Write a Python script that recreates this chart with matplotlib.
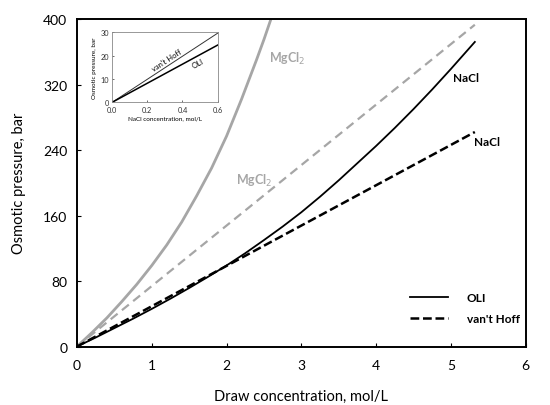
import matplotlib
matplotlib.use("Agg")
import matplotlib.pyplot as plt

plt.rcParams["font.family"] = ["Lato", "DejaVu Sans"]

# Main chart data
mg_conc = [0, 0.2, 0.4, 0.6, 0.8, 1.0, 1.2, 1.4, 1.6, 1.8, 2.0, 2.2, 2.4, 2.5, 2.65]
mg_oli = [0, 17, 35, 55, 76, 99, 124, 152, 184, 218, 257, 302, 350, 375, 415]
mg_vh_conc = [0, 5.32]
mg_vh = [0, 393]

nacl_conc = [0, 0.25, 0.5, 0.75, 1.0, 1.25, 1.5, 1.75, 2.0, 2.25, 2.5, 2.75,
             3.0, 3.25, 3.5, 3.75, 4.0, 4.25, 4.5, 4.75, 5.0, 5.32]
nacl_oli = [0, 11, 22.5, 34, 46, 58.5, 71.5, 85, 99, 114, 130, 146.5,
            164, 183, 203, 224, 245, 267, 290, 314, 339, 372]
nacl_vh_conc = [0, 5.32]
nacl_vh = [0, 262]

# Inset data (NaCl, low concentration)
inset_conc = [0, 0.6]
inset_vh = [0, 29.6]
inset_oli = [0, 24.5]

GRAY = "#a6a6a6"

fig = plt.figure(figsize=(5.5, 4.06), dpi=100)
ax = fig.add_axes([0.14, 0.144, 0.8158, 0.8067])

ax.plot(mg_conc, mg_oli, color=GRAY, lw=2.0)
ax.plot(mg_vh_conc, mg_vh, color=GRAY, lw=1.6, dashes=(4, 2.5))
ax.plot(nacl_conc, nacl_oli, color="black", lw=1.3, label="OLI")
ax.plot(nacl_vh_conc, nacl_vh, color="black", lw=1.8, dashes=(3.5, 1.5), label="van't Hoff")

ax.set_xlim(0, 6)
ax.set_ylim(0, 400)
ax.set_xticks(range(0, 7))
ax.set_yticks(range(0, 401, 80))
ax.tick_params(direction="in", length=3, width=0.8, labelsize=10, colors="black")
ax.tick_params(axis="x", pad=9)
ax.tick_params(axis="y", pad=7)
for sp in ax.spines.values():
    sp.set_linewidth(1.4)
ax.set_xlabel("Draw concentration, mol/L", fontsize=10.5, labelpad=13)
ax.set_ylabel("Osmotic pressure, bar", fontsize=10.5, labelpad=12)

# curve labels
ax.text(5.03, 329, "NaCl", fontsize=8.5, fontweight="bold", va="center", ha="left")
ax.text(5.31, 251, "NaCl", fontsize=8.5, fontweight="bold", va="center", ha="left")
ax.text(2.57, 352, "MgCl$_2$", fontsize=9, fontweight="bold", color=GRAY, va="center", ha="left")
ax.text(2.13, 203, "MgCl$_2$", fontsize=9, fontweight="bold", color=GRAY, va="center", ha="left")

leg = ax.legend(loc="lower right", bbox_to_anchor=(1.01, 0.035), frameon=False,
                handlelength=3.2, handletextpad=1.6, labelspacing=0.9,
                prop={"size": 8.5, "weight": "bold"})

# inset
axi = fig.add_axes([0.204, 0.7456, 0.1916, 0.1724])
axi.plot(inset_conc, inset_vh, color="#333333", lw=0.7)
axi.plot(inset_conc, inset_oli, color="black", lw=1.1)
axi.set_xlim(0, 0.6)
axi.set_ylim(0, 30)
axi.set_xticks([0, 0.2, 0.4, 0.6])
axi.set_xticklabels(["0.0", "0.2", "0.4", "0.6"])
axi.set_yticks([0, 10, 20, 30])
axi.tick_params(direction="in", length=1.5, width=0.5, labelsize=5.3, pad=2.5, colors="#333333")
for sp in axi.spines.values():
    sp.set_linewidth(0.6)
    sp.set_color("#888888")
axi.set_xlabel("NaCl concentration, mol/L", fontsize=4.6, labelpad=1.5)
axi.set_ylabel("Osmotic pressure, bar", fontsize=4.6, labelpad=2)
axi.text(0.31, 18.3, "van't Hoff", fontsize=5.5, rotation=33, ha="center", va="center")
axi.text(0.49, 16.8, "OLI", fontsize=5.5, rotation=28, ha="center", va="center")

fig.savefig("out.png", dpi=100)
